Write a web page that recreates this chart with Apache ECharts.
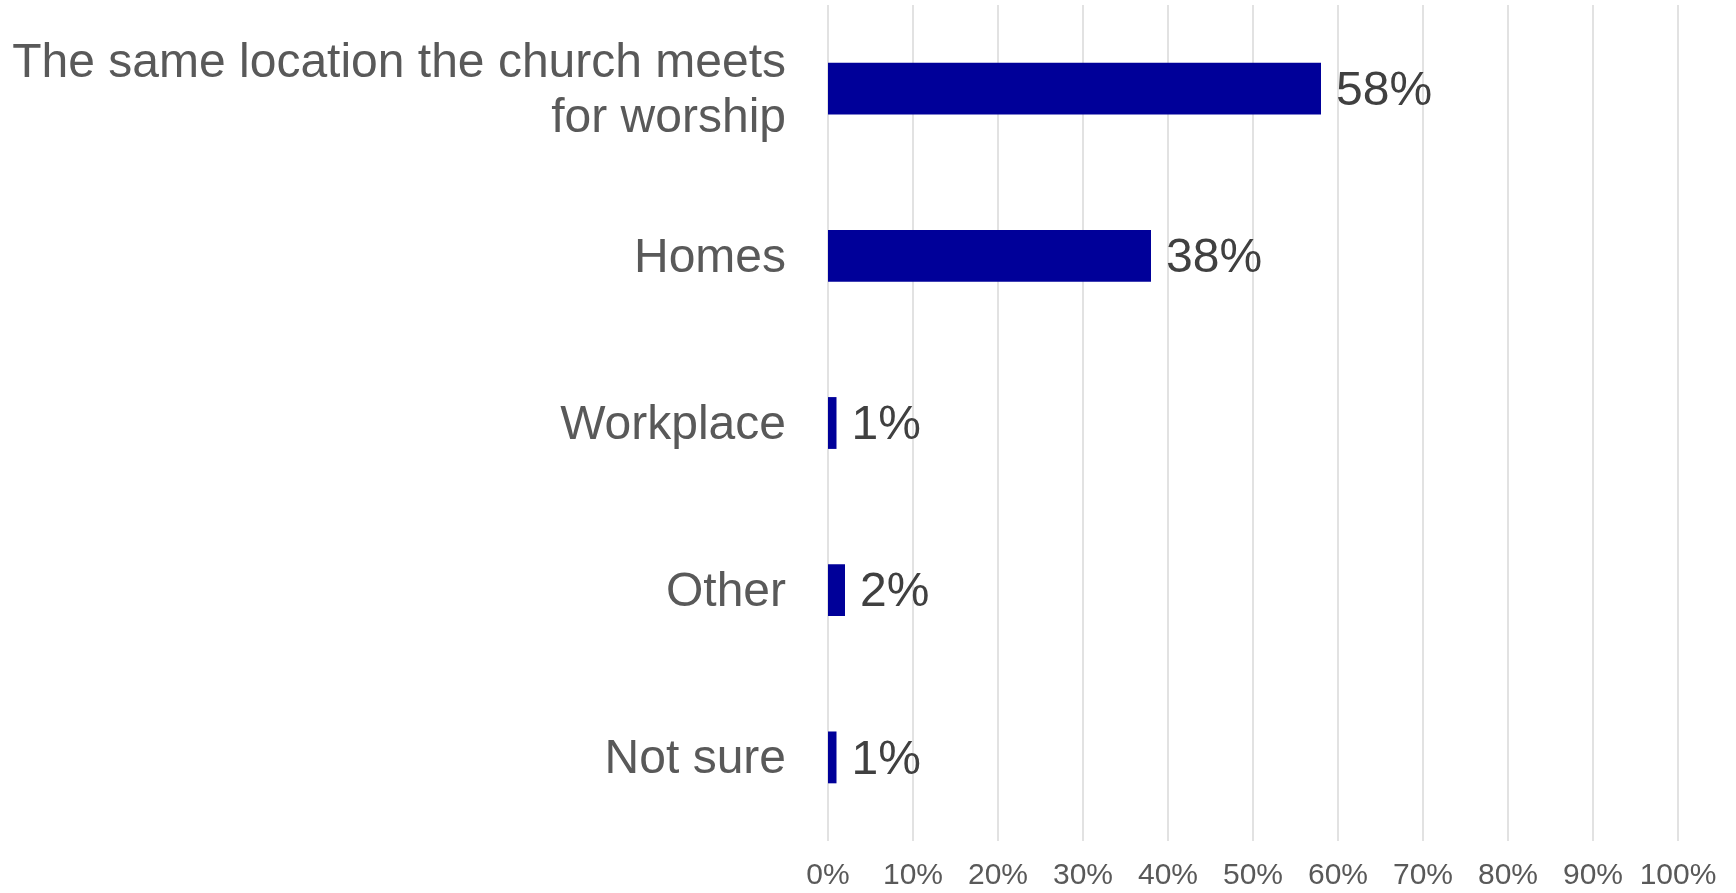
<!DOCTYPE html>
<html>
<head>
<meta charset="utf-8">
<script src="https://cdn.jsdelivr.net/npm/echarts@6/dist/echarts.min.js"></script>
<style>
html,body{margin:0;padding:0;background:#fff;}
#chart{width:1736px;height:893px;}
</style>
</head>
<body>
<div id="chart"></div>
<script>
const categories = ["The same location the church meets\nfor worship", "Homes", "Workplace", "Other", "Not sure"];
const values = [58, 38, 1, 2, 1];
const tickLabels = ["0%","10%","20%","30%","40%","50%","60%","70%","80%","90%","100%"];

const chart = echarts.init(document.getElementById('chart'));
chart.setOption({
  animation: false,
  backgroundColor: '#ffffff',
  grid: { left: 828, right: 58, top: 5, bottom: 52, containLabel: false },
  xAxis: {
    type: 'value', min: 0, max: 100, interval: 10,
    axisLine: { show: false }, axisTick: { show: false },
    splitLine: { show: true, lineStyle: { color: '#d9d9d9', width: 1.5 } },
    axisLabel: {
      margin: 20, color: '#595959', fontSize: 30, fontFamily: 'Liberation Sans, Arial, sans-serif',
      formatter: function (v) { return tickLabels[Math.round(v / 10)]; }
    }
  },
  yAxis: {
    type: 'category', data: categories, inverse: true,
    axisLine: { show: false }, axisTick: { show: false },
    axisLabel: {
      margin: 42, color: '#595959', fontSize: 48, lineHeight: 55, align: 'right',
      fontFamily: 'Liberation Sans, Arial, sans-serif',
      formatter: function (v) {
        return v.split('\n').map(function (s) { return '{t|' + s + '}'; }).join('\n');
      },
      rich: {
        t: { fontSize: 48, lineHeight: 55, color: '#595959', padding: [5, 0, 0, 0],
             fontFamily: 'Liberation Sans, Arial, sans-serif' }
      }
    }
  },
  series: [{
    type: 'bar', data: values, barWidth: '31%',
    itemStyle: { color: '#000099' },
    label: {
      show: true, position: 'right', distance: 15, color: '#404040', fontSize: 48,
      offset: [0, 3],
      fontFamily: 'Liberation Sans, Arial, sans-serif',
      formatter: function (p) { return p.value + '%'; }
    }
  }]
});
</script>
</body>
</html>
